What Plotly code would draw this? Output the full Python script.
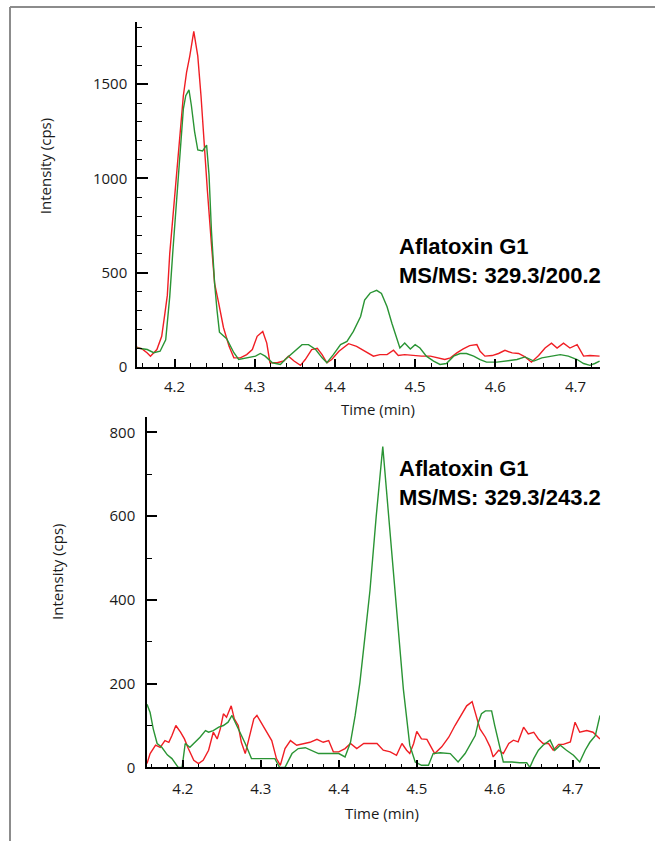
import plotly.graph_objects as go

# ---------------- data ----------------
# Top panel: MS/MS 329.3/200.2
top_red_t = [4.153, 4.160, 4.166, 4.170, 4.178, 4.184, 4.188, 4.191, 4.194, 4.198, 4.202, 4.206,
             4.211, 4.215, 4.219, 4.224, 4.229, 4.233, 4.237, 4.241, 4.246, 4.250, 4.255, 4.261,
             4.268, 4.274, 4.282, 4.290, 4.297, 4.303, 4.310, 4.315, 4.319, 4.328, 4.336, 4.342,
             4.349, 4.357, 4.363, 4.371, 4.378, 4.384, 4.390, 4.396, 4.405, 4.417, 4.427, 4.440,
             4.448, 4.456, 4.465, 4.473, 4.479, 4.487, 4.498, 4.508, 4.519, 4.529, 4.537, 4.544,
             4.552, 4.560, 4.568, 4.577, 4.581, 4.587, 4.596, 4.604, 4.612, 4.621, 4.629, 4.637,
             4.645, 4.654, 4.662, 4.670, 4.677, 4.685, 4.693, 4.702, 4.710, 4.718, 4.730]
top_red_v = [105, 95, 75, 58, 93, 163, 285, 380, 600, 792, 1019, 1196,
             1439, 1563, 1649, 1780, 1649, 1439, 1177, 934, 652, 442, 340, 210,
             110, 49, 49, 66, 93, 163, 189, 127, 23, 23, 32, 58,
             32, 9, 40, 93, 100, 66, 23, 40, 84, 124, 110, 75,
             58, 66, 66, 89, 61, 66, 61, 58, 58, 49, 40, 49,
             75, 96, 114, 119, 84, 58, 61, 72, 89, 75, 72, 54,
             26, 61, 101, 127, 101, 127, 101, 119, 58, 61, 58]

top_green_t = [4.153, 4.166, 4.174, 4.182, 4.189, 4.194, 4.198, 4.202, 4.206, 4.211, 4.214, 4.218,
               4.221, 4.225, 4.229, 4.235, 4.240, 4.243, 4.246, 4.250, 4.253, 4.256, 4.265, 4.274,
               4.280, 4.290, 4.301, 4.307, 4.313, 4.322, 4.332, 4.338, 4.349, 4.359, 4.367, 4.376,
               4.384, 4.390, 4.398, 4.407, 4.415, 4.423, 4.432, 4.437, 4.444, 4.452, 4.458, 4.465,
               4.471, 4.477, 4.481, 4.487, 4.494, 4.500, 4.506, 4.514, 4.523, 4.531, 4.539, 4.548,
               4.556, 4.564, 4.573, 4.581, 4.589, 4.602, 4.614, 4.627, 4.637, 4.648, 4.658, 4.668,
               4.681, 4.691, 4.702, 4.710, 4.718, 4.724, 4.730]
top_green_v = [101, 93, 76, 84, 145, 372, 620, 850, 1107, 1369, 1439, 1470,
               1387, 1249, 1151, 1146, 1177, 1019, 724, 442, 300, 185, 150, 76,
               40, 49, 58, 72, 58, 23, 14, 40, 84, 119, 119, 93,
               49, 23, 66, 119, 136, 189, 268, 355, 393, 407, 390, 320,
               232, 145, 101, 127, 96, 119, 101, 58, 32, 14, 19, 58,
               72, 72, 58, 40, 26, 26, 32, 40, 54, 32, 49, 58,
               66, 58, 40, 19, 9, 19, 32]

# Bottom panel: MS/MS 329.3/243.2
bot_red_t = [4.154, 4.158, 4.165, 4.171, 4.177, 4.182, 4.186, 4.191, 4.197, 4.202, 4.207, 4.214,
             4.220, 4.226, 4.233, 4.239, 4.244, 4.248, 4.252, 4.256, 4.262, 4.266, 4.271, 4.275,
             4.280, 4.285, 4.291, 4.295, 4.301, 4.308, 4.314, 4.320, 4.325, 4.331, 4.338, 4.346,
             4.355, 4.363, 4.372, 4.380, 4.387, 4.393, 4.400, 4.408, 4.415, 4.423, 4.432, 4.440,
             4.449, 4.457, 4.466, 4.474, 4.481, 4.487, 4.491, 4.496, 4.500, 4.506, 4.513, 4.517,
             4.523, 4.532, 4.541, 4.549, 4.558, 4.564, 4.571, 4.575, 4.581, 4.588, 4.594, 4.598,
             4.605, 4.611, 4.618, 4.624, 4.630, 4.637, 4.643, 4.650, 4.656, 4.662, 4.669, 4.675,
             4.682, 4.688, 4.697, 4.703, 4.709, 4.718, 4.726, 4.735]
bot_red_v = [9, 33, 53, 48, 64, 60, 76, 100, 84, 68, 45, 17,
             9, 17, 41, 84, 68, 92, 128, 120, 147, 116, 100, 60,
             33, 68, 116, 124, 104, 84, 64, 21, 5, 45, 64, 53,
             57, 60, 67, 60, 64, 37, 37, 45, 57, 45, 57, 57,
             57, 41, 37, 29, 57, 41, 33, 57, 86, 68, 67, 53,
             33, 49, 72, 100, 128, 147, 157, 131, 92, 72, 49, 25,
             41, 33, 57, 65, 61, 96, 80, 84, 68, 57, 57, 41,
             55, 55, 61, 108, 84, 88, 84, 68]

bot_green_t = [4.154, 4.158, 4.162, 4.167, 4.173, 4.180, 4.186, 4.190, 4.194, 4.199, 4.203, 4.209,
               4.216, 4.222, 4.229, 4.233, 4.239, 4.246, 4.252, 4.258, 4.263, 4.267, 4.274, 4.280,
               4.288, 4.300, 4.318, 4.324, 4.331, 4.340, 4.348, 4.357, 4.365, 4.374, 4.387, 4.400,
               4.408, 4.415, 4.421, 4.427, 4.434, 4.440, 4.448, 4.4564, 4.462, 4.470, 4.4828, 4.491,
               4.498, 4.506, 4.515, 4.521, 4.530, 4.543, 4.553, 4.562, 4.568, 4.575, 4.579, 4.583,
               4.588, 4.596, 4.600, 4.607, 4.611, 4.622, 4.632, 4.641, 4.645, 4.650, 4.656, 4.662,
               4.671, 4.677, 4.684, 4.692, 4.701, 4.709, 4.716, 4.722, 4.729, 4.735]
bot_green_v = [151, 131, 92, 57, 48, 30, 21, 10, 0, 0, 57, 48,
               60, 72, 88, 84, 88, 96, 100, 108, 124, 108, 84, 57,
               21, 21, 21, 0, 0, 33, 45, 47, 41, 33, 33, 33,
               25, 60, 124, 202, 320, 423, 600, 766, 643, 468, 187, 53,
               13, 5, 5, 33, 35, 33, 13, 33, 53, 76, 108, 128,
               135, 135, 100, 45, 13, 13, 11, 11, 0, 21, 41, 53,
               65, 41, 53, 41, 29, 13, 41, 60, 76, 124]

x_tick_labels = ["4.2", "4.3", "4.4", "4.5", "4.6", "4.7"]
x_tick_vals = [4.2, 4.3, 4.4, 4.5, 4.6, 4.7]
top_y_ticks = [0, 500, 1000, 1500]
bot_y_ticks = [0, 200, 400, 600, 800]
label_top = "Aflatoxin G1<br>MS/MS: 329.3/200.2"
label_bot = "Aflatoxin G1<br>MS/MS: 329.3/243.2"

# ---------------- figure ----------------
W, H = 655, 850
RED = "#f01e24"
GREEN = "#2a9434"

fig = go.Figure()
fig.add_trace(go.Scatter(x=top_red_t, y=top_red_v, mode="lines", line=dict(color=RED, width=1.4),
                         xaxis="x", yaxis="y", showlegend=False))
fig.add_trace(go.Scatter(x=top_green_t, y=top_green_v, mode="lines", line=dict(color=GREEN, width=1.4),
                         xaxis="x", yaxis="y", showlegend=False))
fig.add_trace(go.Scatter(x=bot_red_t, y=bot_red_v, mode="lines", line=dict(color=RED, width=1.4),
                         xaxis="x2", yaxis="y2", showlegend=False))
fig.add_trace(go.Scatter(x=bot_green_t, y=bot_green_v, mode="lines", line=dict(color=GREEN, width=1.4),
                         xaxis="x2", yaxis="y2", showlegend=False))

tickfont = dict(family="Open Sans", size=15, color="#1a1a1a")

def xax(domain, rng, anchor, standoff):
    return dict(domain=domain, range=rng, anchor=anchor, showline=True, linecolor="black",
                linewidth=1.5, ticks="inside", ticklen=8, tickwidth=1.5, tickcolor="black",
                tickvals=x_tick_vals, ticktext=x_tick_labels, tickfont=tickfont,
                ticklabelstandoff=standoff,
                minor=dict(ticks="inside", ticklen=4, tickwidth=1.2, tickcolor="black", dtick=0.02,
                           tick0=4.0, showgrid=False),
                showgrid=False, zeroline=False, fixedrange=True)

def yax(domain, rng, anchor, ticks, minor_dtick, tlen, standoff):
    return dict(domain=domain, range=rng, anchor=anchor, showline=True, linecolor="black",
                linewidth=1.5, ticks="inside", ticklen=tlen, tickwidth=1.5, tickcolor="black",
                tickvals=ticks, ticktext=[str(t) for t in ticks], tickfont=tickfont,
                ticklabelstandoff=standoff,
                minor=dict(ticks="inside", ticklen=5, tickwidth=1.2, tickcolor="black",
                           dtick=minor_dtick, tick0=0, showgrid=False),
                showgrid=False, zeroline=False, fixedrange=True)

fig.update_layout(
    width=W, height=H,
    margin=dict(l=0, r=0, t=0, b=0),
    paper_bgcolor="white", plot_bgcolor="white",
    xaxis=xax([137 / W, 600 / W], [4.1532, 4.7305], "y", 5),
    yaxis=yax([1 - 371 / H, 1 - 22 / H], [0, 1831], "x", top_y_ticks, 100, 11, 5),
    xaxis2=xax([147 / W, 600 / W], [4.154, 4.735], "y2", 7),
    yaxis2=yax([1 - 775.6 / H, 1 - 421 / H], [0, 838], "x2", bot_y_ticks, 100, 10, 7),
)

title_font = dict(family="Open Sans", size=15, color="#1a1a1a")
label_font = dict(family="Liberation Sans", size=22, color="black")
ann = [
    dict(text="Intensity (cps)", x=45 / W, y=1 - 168 / H, textangle=-90, font=title_font,
         yanchor="middle"),
    dict(text="Intensity (cps)", x=57 / W, y=1 - 578 / H, textangle=-90, font=title_font,
         yanchor="middle"),
    dict(text="Time (min)", x=378 / W, y=1 - 402 / H, font=title_font, yanchor="top"),
    dict(text="Time (min)", x=382 / W, y=1 - 811 / H, font=title_font, yanchor="top"),
    dict(text="<b>" + label_top.replace("<br>", "</b><br><b>") + "</b>", x=398 / W, y=1 - 263.5 / H,
         xanchor="left", align="left", font=label_font, yanchor="middle"),
    dict(text="<b>" + label_bot.replace("<br>", "</b><br><b>") + "</b>", x=398 / W, y=1 - 488.5 / H,
         xanchor="left", align="left", font=label_font, yanchor="middle"),
]
for a in ann:
    a.setdefault("xanchor", "center")
    a.update(xref="paper", yref="paper", showarrow=False, borderpad=0)
fig.update_layout(annotations=ann)

frame = dict(color="#8c8c8c", width=2)
fig.update_layout(shapes=[
    dict(type="line", xref="paper", yref="paper", x0=10 / W, x1=10 / W, y0=0, y1=1 - 7 / H, line=frame),
    dict(type="line", xref="paper", yref="paper", x0=10 / W, x1=1, y0=1 - 7 / H, y1=1 - 7 / H, line=frame),
])

fig.write_html("out.html")
